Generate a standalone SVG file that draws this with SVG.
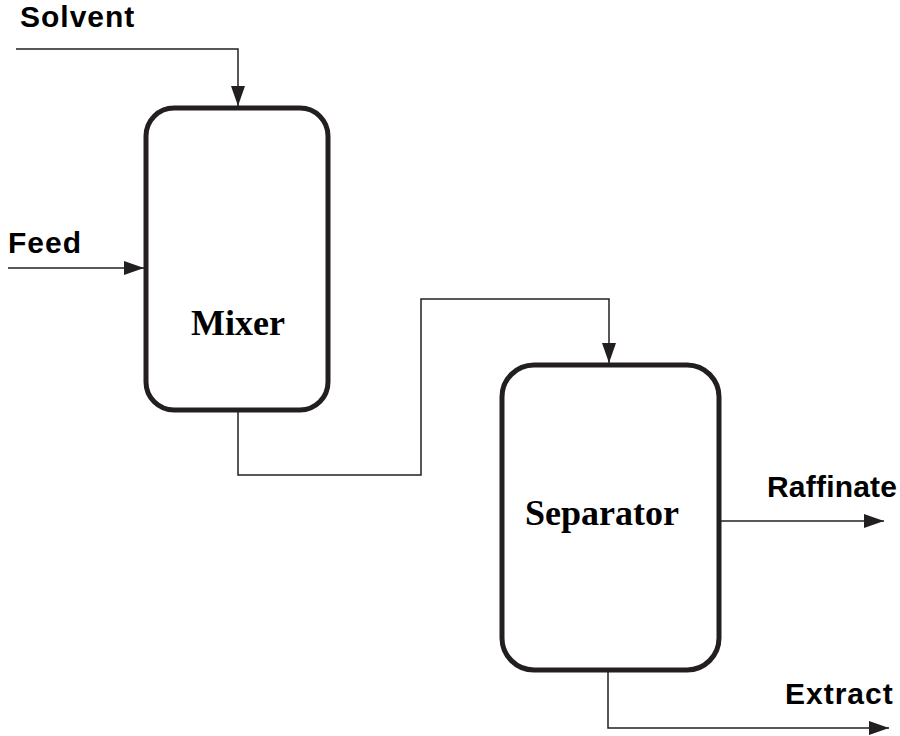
<svg xmlns="http://www.w3.org/2000/svg" width="900" height="736" viewBox="0 0 900 736">
<style>
.box{fill:#fff;stroke:#231f20;stroke-width:5}
.line{fill:none;stroke:#231f20;stroke-width:1.5}
.lbl{font-family:"Liberation Sans",Arial,sans-serif;font-weight:bold;font-size:30px;letter-spacing:1px;fill:#000}
.name{font-family:"Liberation Serif","Times New Roman",serif;font-weight:bold;font-size:36px;fill:#000;text-anchor:middle}
</style>
<defs>
<marker id="arr" markerWidth="20" markerHeight="14" refX="20" refY="7" orient="auto" markerUnits="userSpaceOnUse">
<path d="M0,0 L20,7 L0,14 Z" fill="#231f20"/>
</marker>
</defs>
<rect width="900" height="736" fill="#fff"/>
<g id="connectors">
<path class="line" d="M16,49 H238 V106" marker-end="url(#arr)"/>
<path class="line" d="M8,268 H144" marker-end="url(#arr)"/>
<path class="line" d="M238,412 V475 H421 V299 H609 V363" marker-end="url(#arr)"/>
<path class="line" d="M721,521 H884" marker-end="url(#arr)"/>
<path class="line" d="M608,672 V728 H889" marker-end="url(#arr)"/>
</g>
<g id="mixer">
<rect class="box" x="146" y="108" width="182" height="302" rx="28"/>
<text class="name" x="238" y="335">Mixer</text>
</g>
<g id="separator">
<rect class="box" x="502" y="365" width="217" height="305" rx="32"/>
<text class="name" x="602" y="525">Separator</text>
</g>
<g id="labels">
<text class="lbl" x="20" y="27">Solvent</text>
<text class="lbl" x="8" y="253">Feed</text>
<text class="lbl" x="767" y="497" style="letter-spacing:0" textLength="130" lengthAdjust="spacing">Raffinate</text>
<text class="lbl" x="785" y="704">Extract</text>
</g>
</svg>
